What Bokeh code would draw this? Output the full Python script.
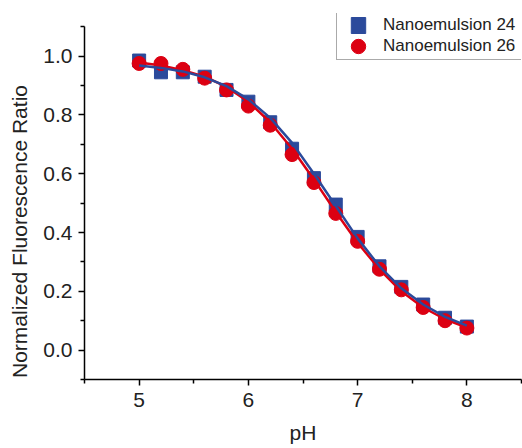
from bokeh.plotting import figure
from bokeh.models import Range1d, Legend, LegendItem, FixedTicker, CustomJSTickFormatter
from bokeh.embed import file_html
from bokeh.resources import INLINE

ph = [5.0, 5.2, 5.4, 5.6, 5.8, 6.0, 6.2, 6.4, 6.6, 6.8, 7.0, 7.2, 7.4, 7.6, 7.8, 8.0]
ne24 = [0.985, 0.945, 0.945, 0.93, 0.885, 0.845, 0.775, 0.685, 0.585, 0.495, 0.385, 0.285, 0.215, 0.155, 0.11, 0.08]
ne26 = [0.975, 0.975, 0.955, 0.925, 0.885, 0.83, 0.765, 0.665, 0.57, 0.465, 0.37, 0.275, 0.205, 0.145, 0.10, 0.075]

fit_ph = [5.0, 5.2, 5.4, 5.6, 5.8, 6.0, 6.2, 6.4, 6.6, 6.8, 7.0, 7.2, 7.4, 7.6, 7.8, 8.0]
fit24 = [0.968, 0.96, 0.948, 0.928, 0.898, 0.853, 0.79, 0.705, 0.60, 0.49, 0.38, 0.285, 0.21, 0.155, 0.113, 0.083]
fit26 = [0.978, 0.968, 0.952, 0.93, 0.895, 0.845, 0.775, 0.685, 0.58, 0.47, 0.365, 0.275, 0.20, 0.145, 0.105, 0.077]

x_ticks = [5, 6, 7, 8]
x_minor = [4.5, 5.5, 6.5, 7.5, 8.5]
y_ticks = [0.0, 0.2, 0.4, 0.6, 0.8, 1.0]
y_minor = [-0.1, 0.1, 0.3, 0.5, 0.7, 0.9, 1.1]

BLUE = "#2b4a9b"
RED = "#dc0012"
TXT = "#222222"
FONT = "Liberation Sans"

# frame: x 84..521, y 13..379 ; y axis drawn only over -0.1..1.1
p = figure(width=522, height=448, output_backend="svg", toolbar_location=None,
           x_range=Range1d(4.5, 8.5), y_range=Range1d(-0.1, 1.145),
           min_border_left=84, min_border_right=1, min_border_top=13, min_border_bottom=69)
p.outline_line_color = None
p.xgrid.visible = False
p.ygrid.visible = False
p.background_fill_color = "white"
p.border_fill_color = "white"

sq = p.rect(ph, ne24, width=13, height=13, width_units="screen", height_units="screen",
            fill_color=BLUE, line_color=BLUE)
ci = p.ellipse(ph, ne26, width=14, height=14, width_units="screen", height_units="screen",
               fill_color=RED, line_color=RED)
p.line(fit_ph, fit26, line_color=RED, line_width=2.5)
p.line(fit_ph, fit24, line_color=BLUE, line_width=2.5)

for ax in (p.xaxis[0], p.yaxis[0]):
    ax.axis_line_color = "black"
    ax.axis_line_width = 1.5
    ax.major_tick_line_color = "black"
    ax.minor_tick_line_color = "black"
    ax.major_tick_line_width = 1.5
    ax.minor_tick_line_width = 1.5
    ax.major_tick_in = 0
    ax.major_tick_out = 6
    ax.minor_tick_in = 0
    ax.minor_tick_out = 4
    ax.major_label_text_font = FONT
    ax.major_label_text_font_size = "21px"
    ax.major_label_text_color = TXT
    ax.axis_label_text_font = FONT
    ax.axis_label_text_font_size = "21px"
    ax.axis_label_text_font_style = "normal"
    ax.axis_label_text_color = TXT

p.xaxis[0].ticker = FixedTicker(ticks=x_ticks, minor_ticks=x_minor)
p.yaxis[0].ticker = FixedTicker(ticks=y_ticks, minor_ticks=y_minor)
p.yaxis[0].bounds = (-0.1, 1.1)
p.yaxis[0].formatter = CustomJSTickFormatter(code="return tick.toFixed(1);")
p.xaxis[0].axis_label = "pH"
p.xaxis[0].major_label_standoff = 7
p.yaxis[0].major_label_standoff = 6
p.xaxis[0].axis_label_standoff = 11
# trailing non-breaking spaces shift the centred label down toward the axis middle
p.yaxis[0].axis_label = "Normalized Fluorescence Ratio" + "\u00a0" * 12
p.yaxis[0].axis_label_standoff = 9

legend = Legend(items=[LegendItem(label="Nanoemulsion 24", renderers=[sq]),
                       LegendItem(label="Nanoemulsion 26", renderers=[ci])],
                location=(252, 319))
legend.label_text_font = FONT
legend.label_text_font_size = "17px"
legend.label_text_color = TXT
legend.border_line_color = "#555555"
legend.border_line_width = 1
legend.background_fill_alpha = 1
legend.padding = dict(left=12, right=3, top=3, bottom=3)
legend.margin = 0
legend.spacing = 1
legend.glyph_width = 18
legend.glyph_height = 20
legend.label_height = 20
legend.label_width = 135
legend.label_standoff = 16
p.add_layout(legend)

open("out.html", "w").write(file_html(p, INLINE))
